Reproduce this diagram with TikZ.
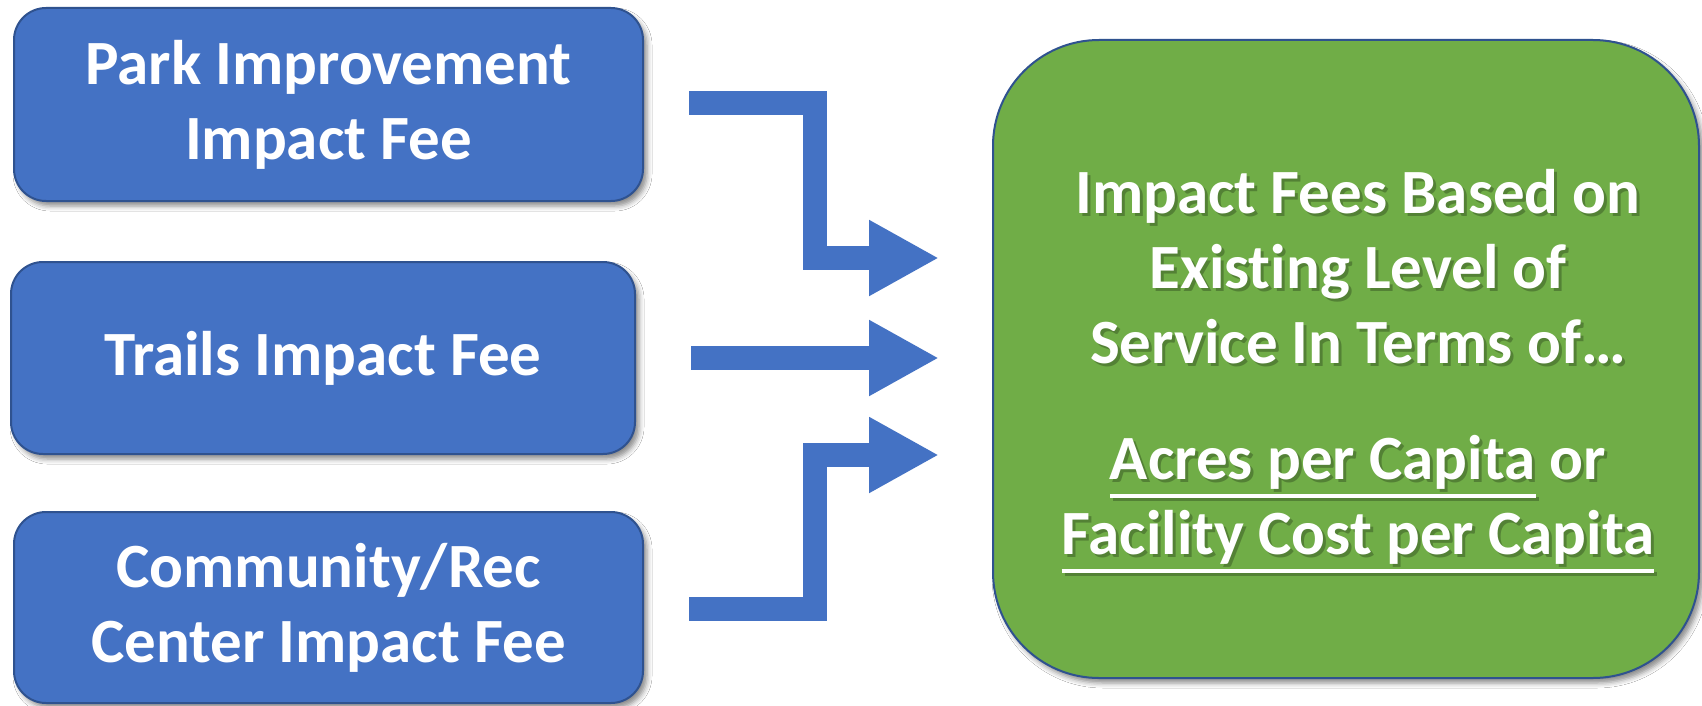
\documentclass[tikz,border=0pt]{standalone}
\usepackage{fontspec}
\setmainfont{Carlito}[Ligatures=NoCommon]
\usetikzlibrary{arrows.meta,shadows.blur}
\definecolor{boxblue}{HTML}{4472C4}
\definecolor{edgeblue}{HTML}{2F528F}
\definecolor{boxgreen}{HTML}{70AD47}
\newcommand\myul[1]{\setbox0=\hbox{#1}\rlap{\rule[-18pt]{\wd0}{4pt}}\box0\relax}
\newcommand\restext{Impact Fees Based on\\Existing Level of\\Service In Terms of…\\[41pt]\myul{Acres per Capita} or\\\myul{Facility Cost per Capita}}
\begin{document}
\begin{tikzpicture}[x=1pt,y=-1pt,
  bigfont/.style={font=\fontsize{63pt}{75pt}\selectfont\bfseries},
  boxshadow/.style={blur shadow={shadow xshift=4pt,shadow yshift=-5pt,shadow blur radius=5pt,shadow opacity=45}},
  fee/.style={draw=edgeblue,line width=2pt,fill=boxblue,rounded corners=32pt,inner sep=0pt,
    text=white,align=center,bigfont,boxshadow},
  result/.style={draw=edgeblue,line width=2pt,fill=boxgreen,rounded corners=106pt,inner sep=0pt,boxshadow},
  restxt/.style={text=white,align=center,bigfont,inner sep=0pt},
  resshadow/.style={text=black,text opacity=0.25,align=center,bigfont,inner sep=0pt},
  conn/.style={draw=boxblue,line width=24pt,-{Triangle[length=70pt,width=71pt]}}]
\useasboundingbox[fill=white] (0,0) rectangle (1702,706);
\node[fee,minimum width=629pt,minimum height=193pt] (park) at (328.5,104.5) {Park Improvement\\Impact Fee};
\node[fee,minimum width=624pt,minimum height=192pt] (trails) at (323,358) {Trails Impact Fee};
\node[fee,minimum width=629pt,minimum height=191pt] (comm) at (328.5,607.5) {Community/Rec\\Center Impact Fee};
\node[result,minimum width=706pt,minimum height=638pt] (res) at (1346,359) {};
\coordinate (rc) at ([shift={(12pt,-12pt)}]res.center);
\node[resshadow] (resshd) at ([shift={(3pt,-3pt)}]rc) {\restext};
\node[restxt] (restext) at (rc) {\restext};
\coordinate (a1s) at (689,103);
\coordinate (a1k1) at (814.5,103);
\coordinate (a1k2) at (814.5,258);
\coordinate (a1e) at (939,258);
\coordinate (a2s) at (691,358);
\coordinate (a2e) at (939,358);
\coordinate (a3s) at (689,609);
\coordinate (a3k1) at (815,609);
\coordinate (a3k2) at (815,455);
\coordinate (a3e) at (939,455);
\draw[conn] (a1s) -- (a1k1) -- (a1k2) -- (a1e);
\draw[conn] (a2s) -- (a2e);
\draw[conn] (a3s) -- (a3k1) -- (a3k2) -- (a3e);
\end{tikzpicture}
\end{document}
